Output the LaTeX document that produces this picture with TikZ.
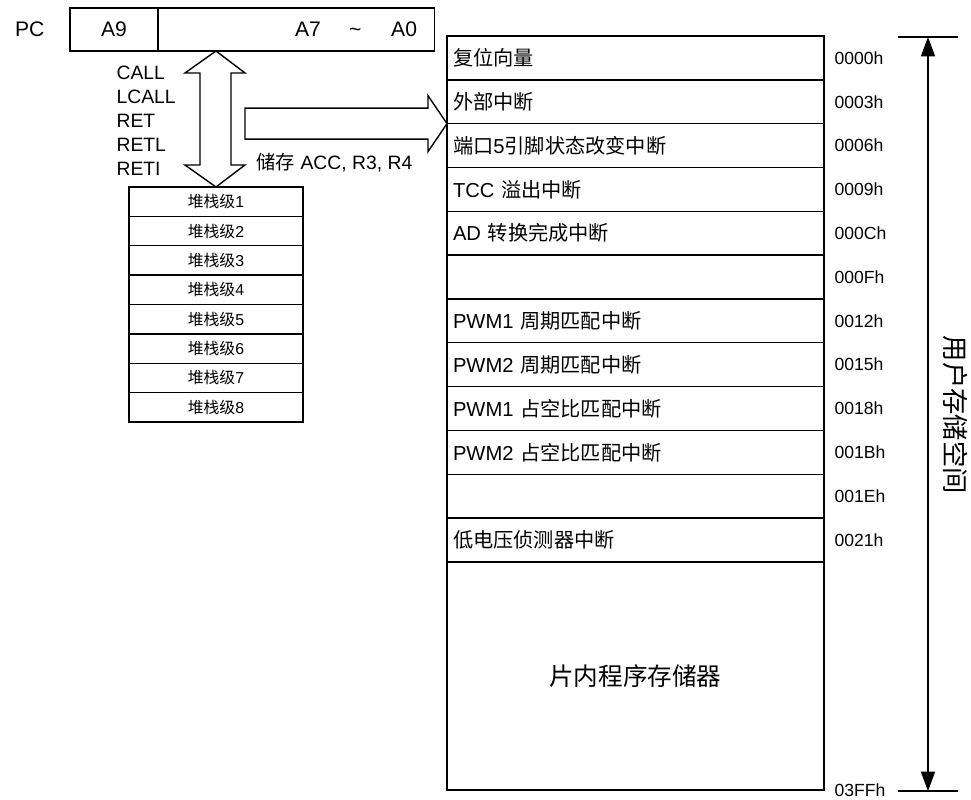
\documentclass[tikz,border=0pt]{standalone}
\usepackage{fontspec}
\setmainfont{Liberation Sans}
\newfontfamily\cjk{Noto Sans CJK SC}
\newcommand{\zh}[1]{{\cjk #1}}
\usetikzlibrary{arrows.meta,positioning}

\begin{document}
\begin{tikzpicture}[
    x = 0.02cm, y = -0.02cm,
    node distance = 0pt,
    line width = 0.8pt,
    every node/.style = {font=\fontsize{11}{13.6}\selectfont},
    reg/.style = {
        rectangle,
        draw,
        outer sep=0pt,
        minimum height=0.86cm,
        font=\fontsize{12}{14}\selectfont
    },
    stackrow/.style = {
        rectangle,
        draw,
        outer sep=0pt,
        minimum width=3.48cm,
        minimum height=0.5875cm,
        font=\fontsize{9}{11}\selectfont
    },
    memrow/.style = {
        rectangle,
        draw,
        outer sep=0pt,
        text width=7.3cm,
        inner xsep=0.12cm,
        align=left,
        minimum height=0.8767cm,
        font=\fontsize{11.5}{14}\selectfont
    },
    addr/.style = {
        anchor=west,
        inner sep=0pt,
        font=\fontsize{10}{12}\selectfont
    },
    blockarrow/.style = {
        draw,
        fill=white
    },
    span/.style = {
        {Triangle[length=11pt,width=8pt]}-{Triangle[length=11pt,width=8pt]}
    }
]
\useasboundingbox (0,0) rectangle (971,800);

% program counter
\node[reg, anchor=north west, minimum width=1.76cm] (pchi) at (70,8) {A9};
\node[reg, right=of pchi, text width=4.83cm, inner xsep=10pt, align=right] (pclo) {A7\hspace{16pt}\textasciitilde\hspace{17pt}A0};
\node[left=0.38cm of pchi, font=\fontsize{12}{14}\selectfont] (pclabel) {PC};

% stack
\node[stackrow, anchor=north west] (s1) at (129,187) {\zh{堆栈级}1};
\node[stackrow, below=of s1] (s2) {\zh{堆栈级}2};
\node[stackrow, below=of s2] (s3) {\zh{堆栈级}3};
\node[stackrow, below=of s3] (s4) {\zh{堆栈级}4};
\node[stackrow, below=of s4] (s5) {\zh{堆栈级}5};
\node[stackrow, below=of s5] (s6) {\zh{堆栈级}6};
\node[stackrow, below=of s6] (s7) {\zh{堆栈级}7};
\node[stackrow, below=of s7] (s8) {\zh{堆栈级}8};

\node[anchor=west, align=left] (calls) at (110,121) {CALL\\LCALL\\RET\\RETL\\RETI};
\node[anchor=west] (save) at (250,163) {\zh{储存} ACC, R3, R4};

% program memory
\node[memrow, anchor=north west] (m1) at (447,36) {\zh{复位向量}};
\node[memrow, below=of m1] (m2) {\zh{外部中断}};
\node[memrow, below=of m2] (m3) {\zh{端口}5\zh{引脚状态改变中断}};
\node[memrow, below=of m3] (m4) {TCC \zh{溢出中断}};
\node[memrow, below=of m4] (m5) {AD \zh{转换完成中断}};
\node[memrow, below=of m5] (m6) {};
\node[memrow, below=of m6] (m7) {PWM1 \zh{周期匹配中断}};
\node[memrow, below=of m7] (m8) {PWM2 \zh{周期匹配中断}};
\node[memrow, below=of m8] (m9) {PWM1 \zh{占空比匹配中断}};
\node[memrow, below=of m9] (m10) {PWM2 \zh{占空比匹配中断}};
\node[memrow, below=of m10] (m11) {};
\node[memrow, below=of m11] (m12) {\zh{低电压侦测器中断}};
\node[memrow, below=of m12, minimum height=4.56cm, align=center, font=\fontsize{14}{16}\selectfont] (prog) {\zh{片内程序存储器}};

\node[addr] (a1) at ([xshift=0.2cm]m1.east) {0000h};
\node[addr] (a2) at ([xshift=0.2cm]m2.east) {0003h};
\node[addr] (a3) at ([xshift=0.2cm]m3.east) {0006h};
\node[addr] (a4) at ([xshift=0.2cm]m4.east) {0009h};
\node[addr] (a5) at ([xshift=0.2cm]m5.east) {000Ch};
\node[addr] (a6) at ([xshift=0.2cm]m6.east) {000Fh};
\node[addr] (a7) at ([xshift=0.2cm]m7.east) {0012h};
\node[addr] (a8) at ([xshift=0.2cm]m8.east) {0015h};
\node[addr] (a9) at ([xshift=0.2cm]m9.east) {0018h};
\node[addr] (a10) at ([xshift=0.2cm]m10.east) {001Bh};
\node[addr] (a11) at ([xshift=0.2cm]m11.east) {001Eh};
\node[addr] (a12) at ([xshift=0.2cm]m12.east) {0021h};
\node[addr] (a13) at ([xshift=0.2cm]prog.south east) {03FFh};

% user space span
\coordinate (spantop) at (928,37);
\coordinate (spanbot) at (928,791);
\draw ([xshift=-0.6cm]spantop) -- ([xshift=0.6cm]spantop);
\draw ([xshift=-0.6cm]spanbot) -- ([xshift=0.6cm]spanbot);
\draw[span] (spantop) -- (spanbot);
\node[rotate=-90, font=\cjk\fontsize{15}{18}\selectfont] (userspace) at (956,415) {用户存储空间};

% block arrows
\draw[blockarrow] (s1.north |- pchi.south) -- ++(29,22) -- ++(-14,0) -- ++(0,92) -- ++(14,0)
    -- (s1.north) -- ++(-31,-22) -- ++(15,0) -- ++(0,-92) -- ++(-15,0) -- cycle;
\draw[blockarrow] (m2.south west) -- ++(-19,-28) -- ++(0,12.5) -- ++(-183,0) -- ++(0,31)
    -- ++(183,0) -- ++(0,12.5) -- cycle;

\end{tikzpicture}
\end{document}
